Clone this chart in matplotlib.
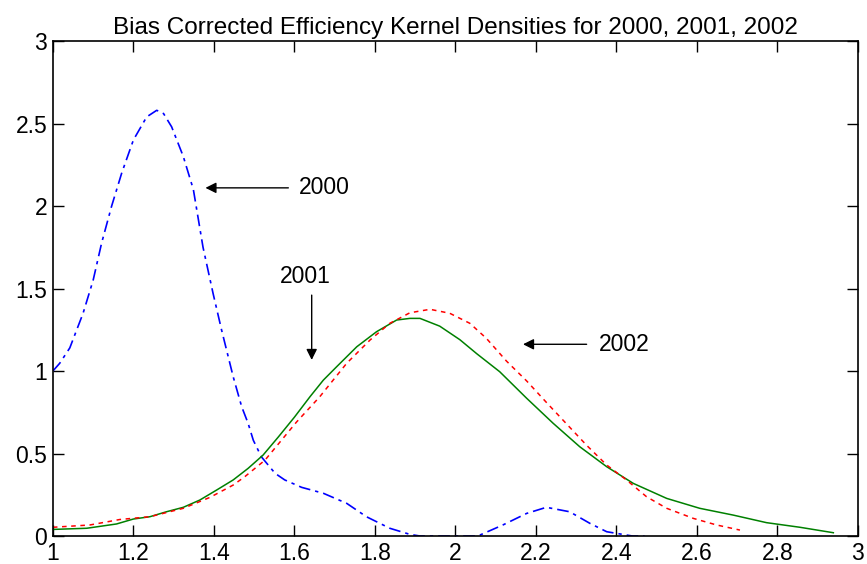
import numpy as np
import matplotlib
matplotlib.use('Agg')
import matplotlib.pyplot as plt

# efficiency densities
x2000 = [1.0, 1.017, 1.042, 1.075, 1.1, 1.121, 1.146, 1.171, 1.2, 1.233, 1.258,
         1.275, 1.295, 1.324, 1.349, 1.373, 1.398, 1.419, 1.448, 1.469, 1.485, 1.498,
         1.518, 1.552, 1.576, 1.618, 1.672, 1.73, 1.779, 1.837, 1.887, 1.912,
         1.95, 2.0, 2.05, 2.061, 2.118, 2.177, 2.226, 2.284, 2.334, 2.376, 2.44, 2.47]
y2000 = [1.0, 1.047, 1.14, 1.35, 1.55, 1.775, 2.0, 2.2, 2.4, 2.54, 2.58,
         2.56, 2.48, 2.3, 2.1, 1.75, 1.47, 1.25, 0.965, 0.784, 0.683, 0.58,
         0.48, 0.38, 0.34, 0.295, 0.259, 0.198, 0.117, 0.047, 0.01, 0.0,
         0.0, 0.0, 0.0, 0.006, 0.067, 0.137, 0.174, 0.147, 0.077, 0.026, 0.0, 0.0]

x2001 = [1.0, 1.084, 1.158, 1.2, 1.241, 1.282, 1.324, 1.365, 1.407, 1.448, 1.485,
         1.522, 1.56, 1.6, 1.639, 1.672, 1.705, 1.755, 1.804, 1.854, 1.887, 1.912,
         1.961, 2.011, 2.053, 2.11, 2.177, 2.243, 2.309, 2.376, 2.442, 2.525,
         2.607, 2.69, 2.773, 2.856, 2.939]
y2001 = [0.04, 0.047, 0.073, 0.103, 0.117, 0.147, 0.174, 0.218, 0.279, 0.34, 0.41,
         0.49, 0.6, 0.72, 0.845, 0.945, 1.026, 1.147, 1.238, 1.309, 1.319, 1.319,
         1.272, 1.19, 1.105, 0.996, 0.835, 0.683, 0.541, 0.42, 0.319, 0.228,
         0.168, 0.127, 0.081, 0.053, 0.02]

x2002 = [1.0, 1.092, 1.166, 1.241, 1.324, 1.39, 1.448, 1.477, 1.527, 1.605, 1.663,
         1.73, 1.788, 1.837, 1.887, 1.937, 1.986, 2.036, 2.077, 2.127, 2.177,
         2.226, 2.276, 2.326, 2.376, 2.425, 2.475, 2.525, 2.591, 2.649, 2.707]
y2002 = [0.053, 0.067, 0.1, 0.117, 0.168, 0.234, 0.309, 0.36, 0.46, 0.69, 0.844,
         1.047, 1.188, 1.289, 1.353, 1.374, 1.35, 1.289, 1.198, 1.06, 0.94,
         0.81, 0.68, 0.55, 0.43, 0.34, 0.238, 0.168, 0.107, 0.067, 0.036]

xticks = [1, 1.2, 1.4, 1.6, 1.8, 2, 2.2, 2.4, 2.6, 2.8, 3]
xticklabels = ['1', '1.2', '1.4', '1.6', '1.8', '2', '2.2', '2.4', '2.6', '2.8', '3']
yticks = [0, 0.5, 1, 1.5, 2, 2.5, 3]
yticklabels = ['0', '0.5', '1', '1.5', '2', '2.5', '3']

plt.rcParams['font.family'] = ['Liberation Sans', 'DejaVu Sans']
fs = 16.5

fig = plt.figure(figsize=(8.67, 5.64), dpi=100)
ax = fig.add_axes([0.061, 0.0496, 0.9285, 0.8777])

ax.plot(x2000, y2000, color='#0000ff', lw=1.2, linestyle=(0, (7, 3, 2, 3)))
ax.plot(x2001, y2001, color='#008000', lw=1.1, linestyle='-')
ax.plot(x2002, y2002, color='#ff0000', lw=1.1, linestyle=(0, (3, 3)))

arrow = dict(arrowstyle='-|>', color='k', lw=1, mutation_scale=16,
             shrinkA=0, shrinkB=0)
ax.annotate('', xy=(1.379, 2.11), xytext=(1.585, 2.11), arrowprops=arrow)
ax.text(1.612, 2.11, '2000', fontsize=fs, ha='left', va='center')
ax.annotate('', xy=(1.643, 1.067), xytext=(1.643, 1.46), arrowprops=arrow)
ax.text(1.628, 1.57, '2001', fontsize=fs, ha='center', va='center')
ax.annotate('', xy=(2.168, 1.162), xytext=(2.326, 1.162), arrowprops=arrow)
ax.text(2.357, 1.162, '2002', fontsize=fs, ha='left', va='center')

ax.set_xlim(1, 3)
ax.set_ylim(0, 3)
ax.set_xticks(xticks)
ax.set_xticklabels(xticklabels)
ax.set_yticks(yticks)
ax.set_yticklabels(yticklabels)
ax.tick_params(direction='in', length=8, width=1, top=True, right=True,
               labelsize=fs, pad=4)
for s in ax.spines.values():
    s.set_linewidth(1.2)

ax.set_title('Bias Corrected Efficiency Kernel Densities for 2000, 2001, 2002',
             fontsize=17.5, pad=5)

fig.savefig('out.png', dpi=100)
